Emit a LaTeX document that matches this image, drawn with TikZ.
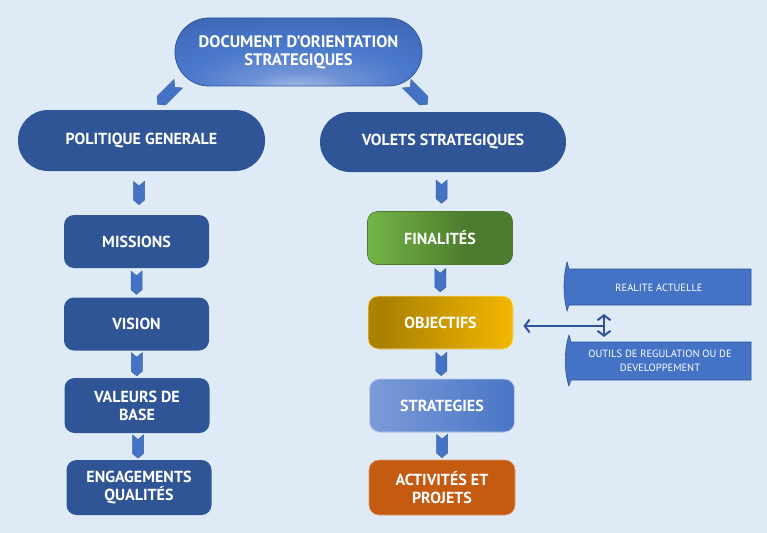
\documentclass[tikz,border=0pt]{standalone}
\usepackage{fontspec}
\setsansfont{PT Sans}
\usetikzlibrary{shapes.symbols,arrows.meta,calc}

\definecolor{bg}{HTML}{DEEBF7}
\definecolor{navy}{HTML}{2F5597}
\definecolor{midblue}{HTML}{4472C4}
\definecolor{chevline}{HTML}{3A62A8}
\definecolor{rust}{HTML}{C55A11}
\definecolor{doc1}{HTML}{B2C5EA}
\definecolor{doc2}{HTML}{6F92D6}
\definecolor{doc3}{HTML}{4A78CB}
\definecolor{doc4}{HTML}{3D67B5}
\definecolor{doc5}{HTML}{2E5497}
\definecolor{fin1}{HTML}{A6D08A}
\definecolor{fin2}{HTML}{70B044}
\definecolor{fin3}{HTML}{4C7A2E}
\definecolor{fin4}{HTML}{507E33}
\definecolor{obj1}{HTML}{C29300}
\definecolor{obj2}{HTML}{AA8000}
\definecolor{obj3}{HTML}{FFC000}
\definecolor{obj4}{HTML}{FFCE3A}
\definecolor{str1}{HTML}{91ACDD}
\definecolor{str2}{HTML}{6D90D3}
\definecolor{str3}{HTML}{4472C4}
\definecolor{str4}{HTML}{2C508F}

\pgfdeclareradialshading{docshade}{\pgfpoint{0bp}{-30bp}}{color(0bp)=(doc1); color(10bp)=(doc2); color(22bp)=(doc3); color(40bp)=(doc4); color(55bp)=(doc5)}
\pgfdeclarehorizontalshading{finshade}{100bp}{color(0bp)=(fin1); color(28bp)=(fin2); color(60bp)=(fin3); color(100bp)=(fin4)}
\pgfdeclarehorizontalshading{objshade}{100bp}{color(0bp)=(obj1); color(30bp)=(obj2); color(82bp)=(obj3); color(100bp)=(obj4)}
\pgfdeclarehorizontalshading{strshade}{100bp}{color(0bp)=(str1); color(40bp)=(str2); color(80bp)=(str3); color(100bp)=(str4)}

\tikzset{
  lbl/.style={text=white, font=\sffamily\bfseries\fontsize{16}{18}\selectfont, align=center},
  pill/.style={lbl, rectangle, fill=navy, minimum width=247pt, minimum height=61pt, rounded corners=30pt},
  tile/.style={lbl, rectangle, fill=navy, minimum width=145pt, minimum height=53pt, rounded corners=10pt},
  chev/.style={shape=signal, signal from=north, signal to=south, signal pointer angle=100,
    fill=midblue, draw=chevline, line width=0.5pt, minimum width=11pt, minimum height=14pt, inner sep=0pt},
  small/.style={text=white, font=\sffamily\fontsize{10.5}{14}\selectfont, align=center},
  tab/.style={fill=midblue, draw=navy, line width=0.6pt},
  link/.style={draw=navy, line width=2pt, -{Straight Barb[length=5pt,width=13pt]}}
}

\begin{document}
\begin{tikzpicture}[x=1pt,y=-1pt]
  \useasboundingbox (0,0) rectangle (767,532);
  \fill[bg] (-5,-5) rectangle (772,537);
  % top
  \node[lbl, font=\sffamily\bfseries\fontsize{16.6}{18}\selectfont, shade, shading=docshade, draw=navy, line width=0.8pt, minimum width=247pt, minimum height=68pt, rounded corners=34pt] (doc) at (298.5,52) {DOCUMENT D'ORIENTATION\\STRATEGIQUES};
  \node[chev, rotate=-45, minimum height=19pt, minimum width=12pt] (dl) at (168,94) {};
  \node[chev, rotate=45, minimum height=19pt, minimum width=12pt] (dr) at (417,94) {};
  \node[pill] (pol) at (141.5,140.5) {POLITIQUE GENERALE};
  \node[pill, minimum width=246pt, minimum height=60pt] (vol) at (443,142) {VOLETS STRATEGIQUES};

  % left column
  \node[tile] (mis) at (136.5,241.5) {MISSIONS};
  \node[tile] (vis) at (136.5,324) {VISION};
  \node[tile, minimum height=55pt] (val) at (137,405.5) {VALEURS DE\\BASE};
  \node[tile, minimum height=55pt] (eng) at (139,487.5) {ENGAGEMENTS\\QUALITÉS};

  % right column
  \node[tile, shade, shading=finshade, draw=fin3, line width=0.6pt] (fin) at (440,238) {FINALITÉS};
  \node[tile, shade, shading=objshade, draw=obj4!60!white, line width=0.8pt] (obj) at (440.5,322.5) {OBJECTIFS};
  \node[tile, shade, shading=strshade, draw=str1!60!white, line width=0.8pt] (str) at (442,405.5) {STRATEGIES};
  \node[tile, fill=rust, draw=rust!60!white, line width=0.6pt, minimum width=146pt, minimum height=55pt] (act) at (442,487.5) {ACTIVITÉS ET\\PROJETS};

  \foreach \a/\b in {pol/mis, mis/vis, vis/val, val/eng, vol/fin, fin/obj, obj/str, str/act}
    \node[chev] at ($(\a.south)!0.5!(\b.north)$) {};

  % side notes
  \draw[tab] (751,269) -- (569,269) -- (567,262) .. controls (563,278) and (563,295) .. (567,311) -- (569,305) -- (751,305) -- cycle;
  \node[small] (rea) at (659,288) {REALITE ACTUELLE};
  \draw[tab] (751,342) -- (571,342) -- (569,335) .. controls (564,350) and (564,372) .. (569,386) -- (571,380) -- (751,380) -- cycle;
  \node[small] (out) at (660,361) {OUTILS DE REGULATION OU DE\\DEVELOPPEMENT};

  \coordinate (j) at (604,326);
  \coordinate (jt) at (604,314);
  \coordinate (jb) at (604,337);
  \draw[link, shorten >=10pt] (j) -- (j -| obj.east);
  \draw[link, {Straight Barb[length=5pt,width=13pt]}-{Straight Barb[length=5pt,width=13pt]}] (jt) -- (jb);
\end{tikzpicture}
\end{document}
